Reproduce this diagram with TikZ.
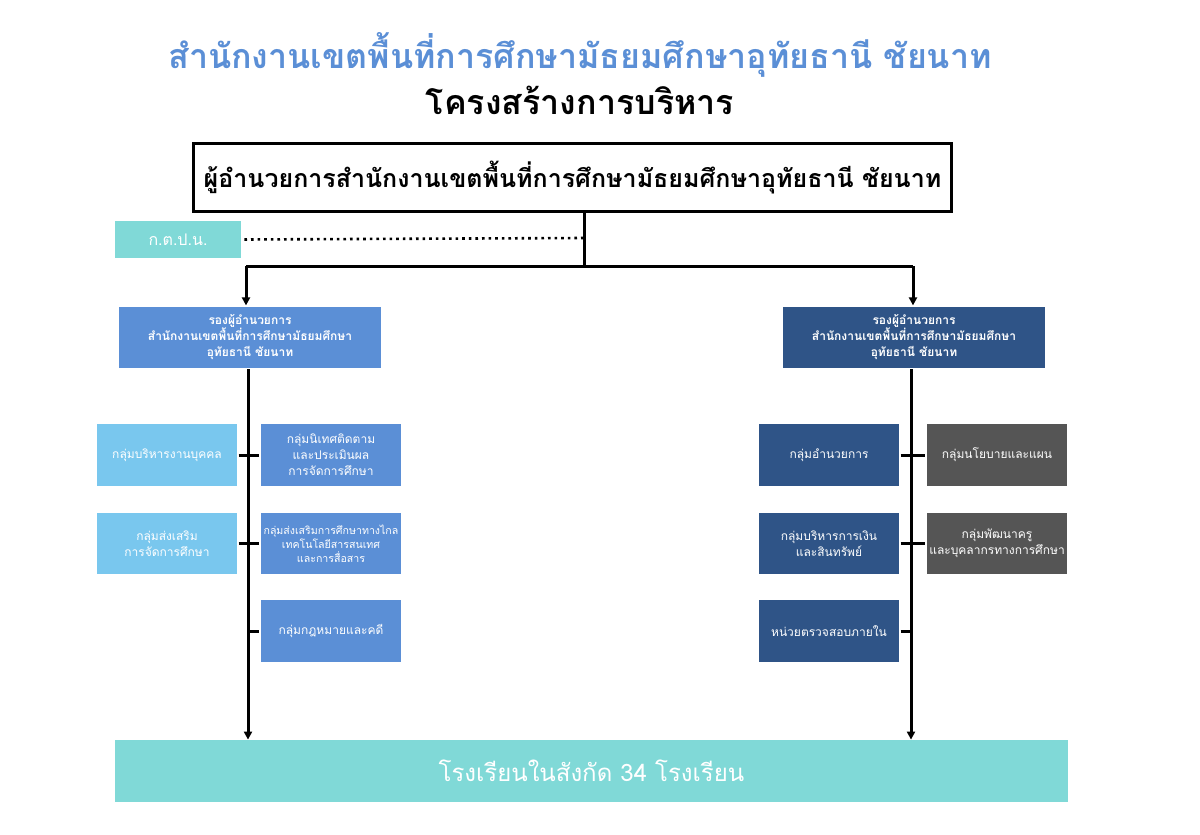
\documentclass[tikz,border=0pt]{standalone}
\usepackage{fontspec}
\setmainfont[Script=Thai]{Loma}
\usetikzlibrary{arrows.meta}
\definecolor{tblue}{HTML}{5B8FD6}
\definecolor{dblue}{HTML}{2F5487}
\definecolor{lblue}{HTML}{79C7EE}
\definecolor{teal}{HTML}{80D9D7}
\definecolor{dgrey}{HTML}{555555}
\begin{document}
\begin{tikzpicture}[x=0.5pt,y=-0.5pt,
  bx/.style={draw=white,line width=0.6pt,text=white,align=center,inner sep=0pt,font=\fontsize{6}{8}\selectfont},
  ln/.style={line width=1.5pt},
  ar/.style={ln,-{Triangle[length=4pt,width=4pt]}}]
\useasboundingbox[fill=white] (0,0) rectangle (1200,835);
\node[text=tblue,font=\bfseries\fontsize{17}{20}\selectfont] (t1) at (580,55) {สำนักงานเขตพื้นที่การศึกษามัธยมศึกษาอุทัยธานี ชัยนาท};
\node[font=\bfseries\fontsize{17}{20}\selectfont] (t2) at (580,100) {โครงสร้างการบริหาร};
\node[draw,line width=1.5pt,minimum width=379pt,minimum height=34pt,font=\bfseries\fontsize{12.5}{15}\selectfont] (top) at (572.5,177.5) {ผู้อำนวยการสำนักงานเขตพื้นที่การศึกษามัธยมศึกษาอุทัยธานี ชัยนาท};
\node[fill=teal,text=white,minimum width=63pt,minimum height=18.5pt,inner sep=0pt,font=\fontsize{8}{10}\selectfont] (kp) at (178,239.5) {ก.ต.ป.น.};
\coordinate (j) at (584,266);
\coordinate (dl) at (584,238);
\draw[ln] (top.south -| j) -- (j);
\draw[line width=1.3pt,dotted] (kp.east) ++(3,0) -- (dl);
\node[bx,fill=tblue,minimum width=132pt,minimum height=31.5pt,font=\bfseries\fontsize{6}{8}\selectfont] (dl1) at (250,337.5) {รองผู้อำนวยการ\\สำนักงานเขตพื้นที่การศึกษามัธยมศึกษา\\อุทัยธานี ชัยนาท};
\node[bx,fill=dblue,minimum width=132pt,minimum height=31.5pt,font=\bfseries\fontsize{6}{8}\selectfont] (dr1) at (914,337.5) {รองผู้อำนวยการ\\สำนักงานเขตพื้นที่การศึกษามัธยมศึกษา\\อุทัยธานี ชัยนาท};
\coordinate (jl) at (246,266); \coordinate (jr) at (913,266);
\draw[ln] (jl) -- (jr);
\draw[ar] (jl) -- (jl |- dl1.north);
\draw[ar] (jr) -- (jr |- dr1.north);
\node[fill=teal,text=white,minimum width=476.5pt,minimum height=31pt,inner sep=0pt,font=\fontsize{12}{14}\selectfont] (sch) at (591.5,771) {โรงเรียนในสังกัด 34 โรงเรียน};
\coordinate (vl) at (248,369); \coordinate (vr) at (911,369);
\draw[ar] (vl) -- (vl |- sch.north);
\draw[ar] (vr) -- (vr |- sch.north);
\tikzset{sb/.style={bx,minimum width=71pt,minimum height=31.5pt}}
\node[sb,fill=lblue] (a1) at (167,455) {กลุ่มบริหารงานบุคคล};
\node[sb,fill=lblue] (a2) at (167,543.5) {กลุ่มส่งเสริม\\การจัดการศึกษา};
\node[sb,fill=tblue] (b1) at (331,455) {กลุ่มนิเทศติดตาม\\และประเมินผล\\การจัดการศึกษา};
\node[sb,fill=tblue,font=\fontsize{5.3}{7}\selectfont] (b2) at (331,543.5) {กลุ่มส่งเสริมการศึกษาทางไกล\\เทคโนโลยีสารสนเทศ\\และการสื่อสาร};
\node[sb,fill=tblue] (b3) at (331,631) {กลุ่มกฎหมายและคดี};
\node[sb,fill=dblue] (c1) at (829,455) {กลุ่มอำนวยการ};
\node[sb,fill=dblue] (c2) at (829,543.5) {กลุ่มบริหารการเงิน\\และสินทรัพย์};
\node[sb,fill=dblue] (c3) at (829,631) {หน่วยตรวจสอบภายใน};
\node[sb,fill=dgrey] (d1) at (997,455) {กลุ่มนโยบายและแผน};
\node[sb,fill=dgrey] (d2) at (997,543.5) {กลุ่มพัฒนาครู\\และบุคลากรทางการศึกษา};
\draw[ln] (a1) -- (b1); \draw[ln] (a2) -- (b2); \draw[ln] (vl |- b3) -- (b3);
\draw[ln] (c1) -- (d1); \draw[ln] (c2) -- (d2); \draw[ln] (c3) -- (vr |- c3);
\end{tikzpicture}
\end{document}
